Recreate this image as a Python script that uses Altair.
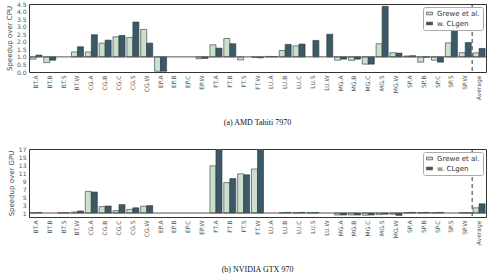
import altair as alt
import pandas as pd

categories = ["BT.A", "BT.B", "BT.S", "BT.W", "CG.A", "CG.B", "CG.C", "CG.S", "CG.W",
              "EP.A", "EP.B", "EP.C", "EP.W", "FT.A", "FT.B", "FT.S", "FT.W",
              "LU.A", "LU.B", "LU.C", "LU.S", "LU.W", "MG.A", "MG.B", "MG.C", "MG.S", "MG.W",
              "SP.A", "SP.B", "SP.C", "SP.S", "SP.W", "Average"]
series_names = ["Grewe et al.", "w. CLgen"]

amd_grewe = [0.85, 0.62, None, 1.33, 1.33, 1.91, 2.33, 2.29, 2.82, 0.05, None, None, 0.88,
             1.80, 2.22, 0.80, 0.97, 1.03, 1.42, 1.73, None, None, 0.78, 0.77, 0.52, 1.87, 1.28,
             1.06, 0.65, 0.78, 1.93, 1.28, 1.27]
amd_clgen = [1.12, 0.78, None, 1.67, 2.47, 2.11, 2.42, 3.31, 1.91, 0.05, None, None, 0.90,
             1.58, 1.87, None, 0.94, 1.02, 1.83, 1.85, 2.09, 2.50, 0.85, 0.85, 0.52, 4.35, 1.25,
             1.08, 0.98, 0.65, 3.40, 1.95, 1.56]
nv_grewe = [1.03, None, 1.05, 1.25, 6.4, 2.6, 1.6, 1.9, 2.7, None, None, None, None,
            12.8, 8.6, 10.8, 12.0, None, 1.05, 1.05, 1.05, None, 0.5, 0.5, 0.45, 0.6, 0.7,
            1.1, 1.1, 1.1, None, 1.05, 2.3]
nv_clgen = [1.1, None, 1.05, 1.5, 6.25, 2.75, 3.1, 2.3, 2.85, None, None, None, None,
            24.0, 9.6, 10.55, 24.0, None, 1.15, 1.15, 1.1, None, 0.5, 0.5, 0.5, 0.7, 0.4,
            1.15, 1.15, 1.15, None, 1.05, 3.3]

amd_ticks = [0.0, 0.5, 1.0, 1.5, 2.0, 2.5, 3.0, 3.5, 4.0, 4.5]
nv_ticks = [1, 3, 5, 7, 9, 11, 13, 15, 17]

colors = ["#cbdfcd", "#3b5967"]


def make_df(g, c):
    rows = []
    for cat, a, b in zip(categories, g, c):
        if a is not None:
            rows.append({"cat": cat, "series": series_names[0], "v": a})
        if b is not None:
            rows.append({"cat": cat, "series": series_names[1], "v": b})
    return pd.DataFrame(rows)


xscale = alt.Scale(domain=categories, paddingInner=0, paddingOuter=0)
xaxis = alt.Axis(title=None, labelAngle=-90, labelFontSize=6, labelColor="#555",
                 labelFont="DejaVu Sans", ticks=False, domain=False, labelPadding=3,
                 labelOverlap=False)


def panel(df, ydomain, yticks, fmt, ytitle, title, title_offset):
    yscale = alt.Scale(domain=ydomain, nice=False, zero=False)
    yaxis = alt.Axis(values=yticks, format=fmt, title=ytitle, grid=False, ticks=False,
                     domain=False, labelFontSize=6, labelColor="#555",
                     labelFont="DejaVu Sans", labelPadding=3, labelOverlap=False,
                     labelFlush=False, labelBound=False, titleFontSize=7,
                     titleFont="DejaVu Sans", titleFontWeight="normal",
                     titleColor="#444", titlePadding=4)
    bars = alt.Chart(df).mark_bar(stroke="#2a3836", strokeWidth=0.6, clip=True).encode(
        x=alt.X("cat:N", sort=categories, scale=xscale, axis=xaxis),
        xOffset=alt.XOffset("series:N", sort=series_names,
                            scale=alt.Scale(domain=series_names, paddingInner=0, paddingOuter=0.15)),
        y=alt.Y("v:Q", scale=yscale, axis=yaxis),
        y2=alt.datum(1),
        color=alt.Color("series:N", sort=series_names,
                        scale=alt.Scale(domain=series_names, range=colors),
                        legend=alt.Legend(title=None, orient="top-right", offset=3,
                                          fillColor="white", strokeColor="#aaa", padding=3,
                                          cornerRadius=2, labelFontSize=7, labelFont="DejaVu Sans",
                                          labelColor="#333",
                                          symbolType="M-1,-0.45H1V0.45H-1Z", symbolSize=36,
                                          symbolStrokeColor="#2a3836", symbolStrokeWidth=0.6,
                                          symbolOpacity=1, rowPadding=2)),
    )
    hline = alt.Chart(pd.DataFrame({"v": [1]})).mark_rule(color="#555", strokeWidth=1).encode(
        y=alt.Y("v:Q", scale=yscale, axis=yaxis))
    vline = alt.Chart(pd.DataFrame({"cat": ["Average"]})).mark_rule(
        color="#333", strokeWidth=1, strokeDash=[4, 3]).encode(
        x=alt.X("cat:N", sort=categories, scale=xscale, bandPosition=0, axis=xaxis))
    return alt.layer(bars, hline, vline).properties(
        width=457, height=68,
        title=alt.TitleParams(title, orient="bottom", font="Liberation Serif", fontSize=8,
                              fontWeight="normal", color="#111", offset=title_offset,
                              anchor="middle"))


top = panel(make_df(amd_grewe, amd_clgen), [0, 4.5], amd_ticks, ".1f",
            "Speedup over CPU", "(a) AMD Tahiti 7970", 19)
bottom = panel(make_df(nv_grewe, nv_clgen), [0, 17], nv_ticks, "d",
               "Speedup over GPU", "(b) NVIDIA GTX 970", 21)

chart = alt.vconcat(top, bottom, spacing=17).resolve_scale(
    color="independent", y="independent").resolve_legend(color="independent").properties(
    padding={"left": 4, "top": 0, "right": 5, "bottom": 0},
    background="white",
).configure_view(stroke="#333", strokeWidth=1)

chart.save("out.html", embed_options={"renderer": "svg", "actions": False})
